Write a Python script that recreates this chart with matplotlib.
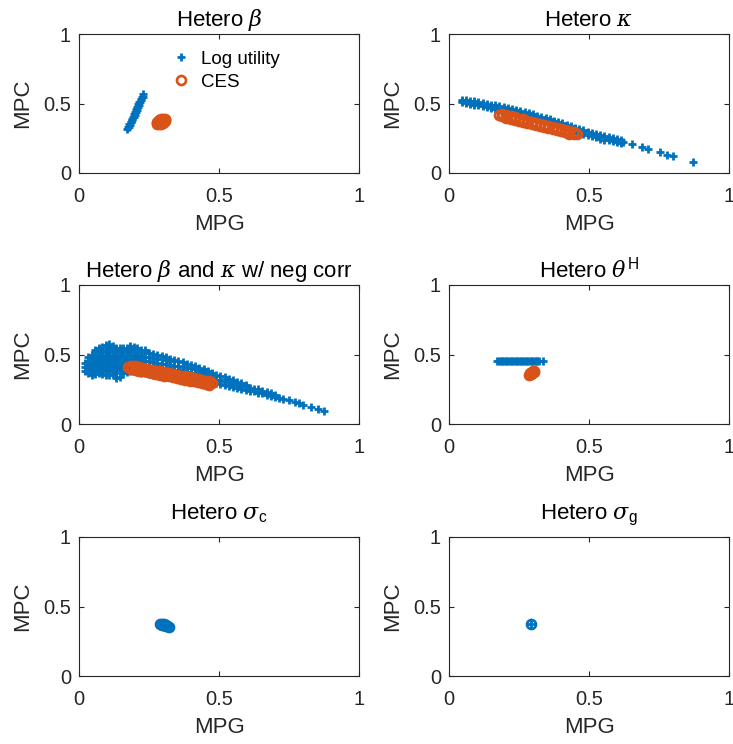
import matplotlib
matplotlib.use("Agg")
import matplotlib.pyplot as plt

plt.rcParams["font.family"] = ["Liberation Sans", "DejaVu Sans"]
plt.rcParams["mathtext.fontset"] = "custom"
plt.rcParams["mathtext.rm"] = "Liberation Sans"
plt.rcParams["mathtext.it"] = "DejaVu Serif:italic"

BLUE = "#0072BD"
ORANGE = "#D95319"
AXC = "#262626"

# ---- data (x = MPG, y = MPC) ----

# Hetero beta: log utility is a thin rising band, CES a small blob
beta_log_x = [0.172, 0.176, 0.180, 0.184, 0.188, 0.192, 0.196, 0.200, 0.204, 0.208, 0.212, 0.216,
              0.220, 0.224, 0.227,
              0.179, 0.183, 0.187, 0.191, 0.195, 0.199, 0.203, 0.207, 0.211, 0.215, 0.219, 0.223, 0.227]
beta_log_y = [0.315, 0.333, 0.351, 0.369, 0.387, 0.405, 0.423, 0.441, 0.459, 0.477, 0.495, 0.513,
              0.531, 0.549, 0.565,
              0.330, 0.348, 0.366, 0.384, 0.402, 0.420, 0.438, 0.456, 0.474, 0.492, 0.510, 0.528, 0.546]
beta_ces_x = [0.278, 0.285, 0.292, 0.300, 0.306, 0.308, 0.306, 0.300, 0.292, 0.284, 0.279, 0.277,
              0.288, 0.296, 0.300, 0.292]
beta_ces_y = [0.352, 0.350, 0.355, 0.362, 0.372, 0.383, 0.390, 0.392, 0.388, 0.380, 0.368, 0.358,
              0.365, 0.375, 0.380, 0.372]

# Hetero kappa: long falling band (three rows) plus a sparse tail
kappa_log_x = [0.045, 0.060, 0.075, 0.090, 0.105, 0.120, 0.135, 0.150, 0.165, 0.180, 0.195, 0.210,
               0.225, 0.240, 0.255, 0.270, 0.285, 0.300, 0.315, 0.330, 0.345, 0.360, 0.375, 0.390,
               0.405, 0.420, 0.435, 0.450, 0.465, 0.480, 0.495, 0.510, 0.525, 0.540, 0.555, 0.570,
               0.585, 0.600, 0.615]
kappa_log_top = [0.525, 0.522, 0.519, 0.515, 0.510, 0.504, 0.498, 0.492, 0.486, 0.480, 0.474, 0.467,
                 0.460, 0.452, 0.444, 0.437, 0.430, 0.422, 0.413, 0.404, 0.395, 0.386, 0.377, 0.368,
                 0.358, 0.348, 0.338, 0.327, 0.318, 0.308, 0.298, 0.289, 0.280, 0.272, 0.264, 0.258,
                 0.251, 0.244, 0.238]
kappa_log_mid = [0.515, 0.511, 0.507, 0.503, 0.498, 0.492, 0.486, 0.480, 0.474, 0.468, 0.462, 0.455,
                 0.448, 0.440, 0.432, 0.425, 0.418, 0.410, 0.401, 0.392, 0.383, 0.374, 0.365, 0.356,
                 0.346, 0.336, 0.326, 0.315, 0.306, 0.296, 0.286, 0.277, 0.268, 0.260, 0.252, 0.246,
                 0.239, 0.232, 0.226]
kappa_log_bot = [0.508, 0.503, 0.497, 0.491, 0.486, 0.480, 0.474, 0.468, 0.462, 0.456, 0.450, 0.443,
                 0.436, 0.428, 0.420, 0.413, 0.406, 0.398, 0.389, 0.380, 0.371, 0.362, 0.353, 0.344,
                 0.334, 0.324, 0.314, 0.303, 0.294, 0.284, 0.274, 0.265, 0.256, 0.248, 0.240, 0.234,
                 0.227, 0.220, 0.214]
kappa_tail_x = [0.623, 0.652, 0.688, 0.712, 0.754, 0.777, 0.801, 0.873]
kappa_tail_y = [0.224, 0.212, 0.188, 0.176, 0.152, 0.129, 0.121, 0.081]

kappa_ces_x = [0.190, 0.205, 0.220, 0.235, 0.250, 0.265, 0.280, 0.295, 0.310, 0.325, 0.340, 0.355,
               0.370, 0.385, 0.400, 0.415, 0.430, 0.445]
kappa_ces_top = [0.423, 0.415, 0.408, 0.400, 0.392, 0.385, 0.377, 0.369, 0.362, 0.354, 0.346, 0.339,
                 0.331, 0.323, 0.316, 0.308, 0.300, 0.293]
kappa_ces_mid = [0.415, 0.407, 0.400, 0.392, 0.384, 0.377, 0.369, 0.361, 0.354, 0.346, 0.338, 0.331,
                 0.323, 0.315, 0.308, 0.300, 0.292, 0.285]
kappa_ces_bot = [0.407, 0.399, 0.392, 0.384, 0.376, 0.369, 0.361, 0.353, 0.346, 0.338, 0.330, 0.323,
                 0.315, 0.307, 0.300, 0.292, 0.284, 0.277]
kappa_ces_ends_x = [0.180, 0.456]
kappa_ces_ends_y = [0.420, 0.279]

# Hetero beta and kappa w/ neg corr: log utility cloud, column by column (MPG, [MPC...])
corr_log_cols = [
    (0.020, [0.38, 0.41, 0.44]),
    (0.0325, [0.365, 0.395, 0.425, 0.455, 0.48]),
    (0.045, [0.355, 0.38, 0.41, 0.44, 0.47, 0.50]),
    (0.0575, [0.36, 0.395, 0.425, 0.455, 0.485, 0.515, 0.53]),
    (0.070, [0.365, 0.38, 0.41, 0.44, 0.47, 0.50, 0.53, 0.545]),
    (0.0825, [0.36, 0.395, 0.425, 0.455, 0.485, 0.515, 0.555]),
    (0.095, [0.355, 0.38, 0.41, 0.44, 0.47, 0.50, 0.53, 0.565]),
    (0.1075, [0.35, 0.395, 0.425, 0.455, 0.485, 0.515, 0.545, 0.575]),
    (0.120, [0.36, 0.38, 0.41, 0.44, 0.47, 0.50, 0.53, 0.56]),
    (0.1325, [0.33, 0.365, 0.395, 0.425, 0.455, 0.485, 0.515, 0.55]),
    (0.145, [0.335, 0.38, 0.41, 0.44, 0.47, 0.50, 0.53, 0.545]),
    (0.1575, [0.37, 0.395, 0.425, 0.455, 0.485, 0.515, 0.545]),
    (0.170, [0.375, 0.41, 0.44, 0.47, 0.50, 0.53, 0.55]),
    (0.1825, [0.38, 0.395, 0.425, 0.455, 0.485, 0.515, 0.545, 0.56]),
    (0.195, [0.38, 0.41, 0.44, 0.47, 0.50, 0.53, 0.555]),
    (0.2075, [0.375, 0.395, 0.425, 0.455, 0.485, 0.515, 0.545]),
    (0.220, [0.37, 0.41, 0.44, 0.47, 0.50, 0.535]),
    (0.235, [0.365, 0.395, 0.425, 0.455, 0.485, 0.515, 0.53]),
    (0.250, [0.36, 0.39, 0.42, 0.45, 0.48, 0.51]),
    (0.265, [0.355, 0.385, 0.415, 0.445, 0.475, 0.505]),
    (0.280, [0.35, 0.38, 0.41, 0.44, 0.47, 0.495]),
    (0.295, [0.345, 0.375, 0.405, 0.435, 0.465, 0.49]),
    (0.310, [0.345, 0.37, 0.40, 0.43, 0.46, 0.48]),
    (0.325, [0.34, 0.365, 0.395, 0.425, 0.455, 0.47]),
    (0.340, [0.335, 0.36, 0.39, 0.42, 0.46]),
    (0.355, [0.33, 0.355, 0.385, 0.415, 0.45]),
    (0.370, [0.33, 0.35, 0.38, 0.41, 0.445]),
    (0.385, [0.325, 0.345, 0.375, 0.405, 0.435]),
    (0.400, [0.32, 0.34, 0.37, 0.40, 0.425]),
    (0.415, [0.315, 0.335, 0.365, 0.395, 0.415]),
    (0.430, [0.31, 0.33, 0.36, 0.385, 0.405]),
    (0.445, [0.31, 0.325, 0.355, 0.375, 0.395]),
    (0.460, [0.305, 0.32, 0.35, 0.38]),
    (0.475, [0.30, 0.33, 0.36, 0.365]),
    (0.490, [0.295, 0.32, 0.35]),
    (0.505, [0.29, 0.315, 0.345]),
    (0.520, [0.28, 0.31, 0.335]),
    (0.535, [0.27, 0.30, 0.325]),
    (0.550, [0.265, 0.29, 0.315]),
    (0.565, [0.26, 0.285, 0.305]),
    (0.580, [0.25, 0.275, 0.295]),
    (0.595, [0.245, 0.27, 0.28]),
    (0.610, [0.24, 0.26]),
    (0.625, [0.235, 0.255]),
    (0.640, [0.225, 0.25]),
    (0.655, [0.22, 0.24]),
    (0.670, [0.21, 0.23]),
    (0.685, [0.205, 0.22]),
    (0.700, [0.195, 0.21]),
    (0.715, [0.19]),
    (0.730, [0.18]),
    (0.750, [0.17]),
    (0.770, [0.16]),
    (0.785, [0.15]),
    (0.800, [0.14]),
    (0.830, [0.12]),
    (0.855, [0.105]),
    (0.875, [0.09]),
]
corr_ces_x = [0.185, 0.200, 0.215, 0.230, 0.245, 0.260, 0.275, 0.290, 0.305, 0.320, 0.335, 0.350,
              0.365, 0.380, 0.395, 0.410, 0.425, 0.440, 0.455, 0.465]
corr_ces_top = [0.420, 0.414, 0.408, 0.402, 0.396, 0.390, 0.384, 0.378, 0.372, 0.366, 0.360, 0.354,
                0.348, 0.342, 0.336, 0.330, 0.324, 0.318, 0.312, 0.308]
corr_ces_mid = [0.408, 0.402, 0.396, 0.390, 0.384, 0.378, 0.372, 0.366, 0.360, 0.354, 0.348, 0.342,
                0.336, 0.330, 0.324, 0.318, 0.312, 0.306, 0.300, 0.296]
corr_ces_bot = [0.396, 0.390, 0.384, 0.378, 0.372, 0.366, 0.360, 0.354, 0.348, 0.342, 0.336, 0.330,
                0.324, 0.318, 0.312, 0.306, 0.300, 0.294, 0.288, 0.284]
corr_ces_ends_x = [0.176, 0.474]
corr_ces_ends_y = [0.412, 0.293]

# Hetero theta^H: flat log utility bar, CES blob
theta_log_x = [0.172, 0.178, 0.184, 0.190, 0.196, 0.202, 0.208, 0.214, 0.220, 0.226, 0.232, 0.238,
               0.244, 0.250, 0.256, 0.262, 0.268, 0.274, 0.280, 0.286, 0.292, 0.298, 0.304, 0.310,
               0.316, 0.322, 0.335]
theta_log_y = [0.456, 0.453, 0.456, 0.453, 0.456, 0.453, 0.456, 0.453, 0.456, 0.453, 0.456, 0.453,
               0.456, 0.453, 0.456, 0.453, 0.456, 0.453, 0.456, 0.453, 0.456, 0.453, 0.456, 0.453,
               0.456, 0.454, 0.455]
theta_ces_x = [0.287, 0.292, 0.297, 0.302, 0.305, 0.290, 0.296, 0.300, 0.294]
theta_ces_y = [0.355, 0.360, 0.368, 0.376, 0.383, 0.365, 0.375, 0.380, 0.357]

# Hetero sigma_c and sigma_g (both series drawn in blue)
sigc_x = [0.290, 0.295, 0.300, 0.305, 0.310, 0.315, 0.320, 0.295, 0.305, 0.312]
sigc_y = [0.372, 0.375, 0.370, 0.366, 0.362, 0.358, 0.355, 0.365, 0.374, 0.368]
sigg_x = [0.292]
sigg_y = [0.374]

titles = [r"Hetero $\beta$", r"Hetero $\kappa$", r"Hetero $\beta$ and $\kappa$ w/ neg corr",
          r"Hetero $\theta^{\mathrm{H}}$", r"Hetero $\sigma_{\mathrm{c}}$", r"Hetero $\sigma_{\mathrm{g}}$"]
title_pads = [5.5, 5.5, 5.5, 5.5, 13, 13]

corr_log_x = [c[0] for c in corr_log_cols for _ in c[1]]
corr_log_y = [v for c in corr_log_cols for v in c[1]]

log_series = [
    (beta_log_x, beta_log_y),
    (kappa_log_x * 3 + kappa_tail_x, kappa_log_top + kappa_log_mid + kappa_log_bot + kappa_tail_y),
    (corr_log_x, corr_log_y),
    (theta_log_x, theta_log_y),
    (sigc_x, sigc_y),
    (sigg_x, sigg_y),
]
ces_series = [
    (beta_ces_x, beta_ces_y),
    (kappa_ces_x * 3 + kappa_ces_ends_x, kappa_ces_top + kappa_ces_mid + kappa_ces_bot + kappa_ces_ends_y),
    (corr_ces_x * 3 + corr_ces_ends_x, corr_ces_top + corr_ces_mid + corr_ces_bot + corr_ces_ends_y),
    (theta_ces_x, theta_ces_y),
    (sigc_x, sigc_y),
    (sigg_x, sigg_y),
]
ces_colors = [ORANGE, ORANGE, ORANGE, ORANGE, BLUE, BLUE]

fig = plt.figure(figsize=(7.33, 7.44), dpi=100)
lefts = [79 / 733, 449 / 733]
bottoms = [(744 - 173) / 744, (744 - 424) / 744, (744 - 676) / 744]
w, h = 280 / 733, 139 / 744

for i in range(6):
    ax = fig.add_axes([lefts[i % 2], bottoms[i // 2], w, h])
    lx, ly = log_series[i]
    cx, cy = ces_series[i]
    l1, = ax.plot(lx, ly, "+", color=BLUE, ms=6, mew=2.0, ls="none", label="Log utility")
    l2, = ax.plot(cx, cy, "o", mfc="none", mec=ces_colors[i], ms=6.5, mew=1.9, ls="none", label="CES")
    ax.set_xlim(0, 1)
    ax.set_ylim(0, 1)
    ax.set_xticks([0, 0.5, 1])
    ax.set_yticks([0, 0.5, 1])
    ax.set_xticklabels(["0", "0.5", "1"])
    ax.set_yticklabels(["0", "0.5", "1"])
    ax.tick_params(direction="in", length=3.5, width=0.8, colors=AXC, labelsize=14.5,
                   top=True, right=True)
    ax.tick_params(axis="x", pad=10)
    ax.tick_params(axis="y", pad=5.8)
    for s in ax.spines.values():
        s.set_color(AXC)
        s.set_linewidth(0.8)
    ax.set_xlabel("MPG", fontsize=16, color=AXC, labelpad=6)
    ax.set_ylabel("MPC", fontsize=16, color=AXC, labelpad=7)
    ax.set_title(titles[i], fontsize=16, pad=title_pads[i])
    if i == 0:
        ax.legend(handles=[l1, l2], loc="upper left", bbox_to_anchor=(0.27, 1.0),
                  frameon=False, fontsize=13.5, handlelength=1.0, handletextpad=0.6,
                  labelspacing=0.3)

fig.savefig("out.png", dpi=100)
